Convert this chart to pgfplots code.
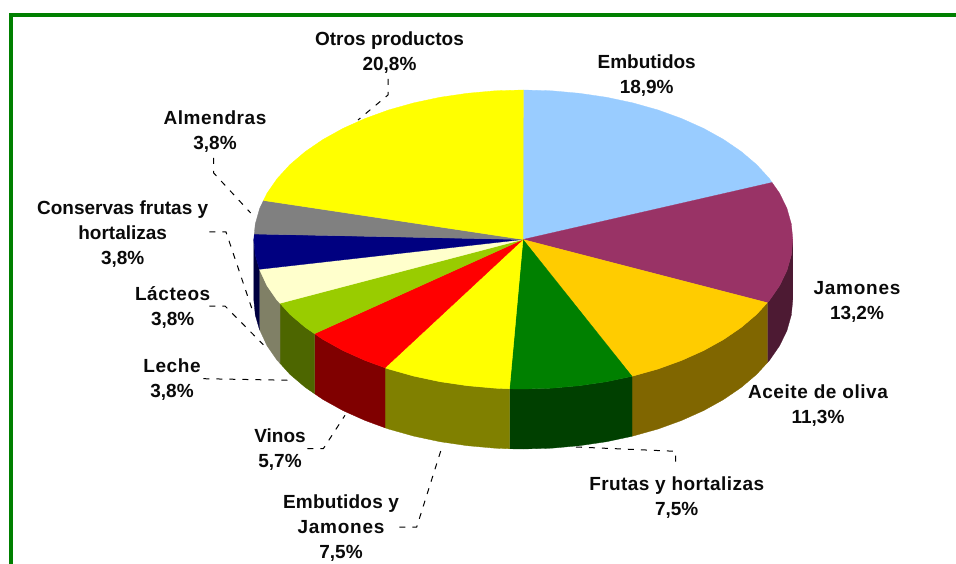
\documentclass[border=0pt]{standalone}
\usepackage{pgfplots}
\pgfplotsset{compat=1.18}
\usepackage{fontspec}
\setmainfont{Liberation Sans}
\definecolor{cEmb}{HTML}{99CCFF}
\definecolor{cJam}{HTML}{993366}
\definecolor{cAce}{HTML}{FFCC00}
\definecolor{cFru}{HTML}{008000}
\definecolor{cEyJ}{HTML}{FFFF00}
\definecolor{cVin}{HTML}{FF0000}
\definecolor{cLec}{HTML}{99CC00}
\definecolor{cLac}{HTML}{FFFFCC}
\definecolor{cCon}{HTML}{000080}
\definecolor{cAlm}{HTML}{808080}
\definecolor{cOtr}{HTML}{FFFF00}
\definecolor{sJam}{HTML}{4D1A33}
\definecolor{sAce}{HTML}{806600}
\definecolor{sFru}{HTML}{004000}
\definecolor{sEyJ}{HTML}{808000}
\definecolor{sVin}{HTML}{800000}
\definecolor{sLec}{HTML}{4D6600}
\definecolor{sLac}{HTML}{808066}
\definecolor{sCon}{HTML}{000040}
\definecolor{frameG}{HTML}{008000}
\definecolor{txt}{HTML}{0A0A0A}
\pgfplotsset{
  slice/.style={fill=#1,draw=#1,line width=0.3pt},
  leader/.style={black,line width=1pt,dash pattern=on 6pt off 7pt},
}
\tikzset{lab/.style={font=\fontsize{19}{25}\selectfont\bfseries,text=txt,align=center,inner sep=0pt}}
\newcommand{\ls}[2]{{\addfontfeatures{LetterSpace=#1}#2}}
\begin{document}
\begin{tikzpicture}
\useasboundingbox (0,0) rectangle (956pt,564pt);
\begin{axis}[
  at={(0,0)},anchor=south west,
  scale only axis,width=956pt,height=564pt,
  xmin=0,xmax=956,ymin=0,ymax=564,y dir=reverse,
  hide axis,clip=true]
% frame
\addplot[frameG,line width=4pt] coordinates {(11,564) (11,15) (956,15)};
% side walls
\addplot[slice=sJam] coordinates {(792.8,239.5)(791.3,255.1)(786.9,270.6)(779.6,285.7)(769.5,300.3)(767.3,302.7)(767.3,362.7)(769.5,360.3)(779.6,345.7)(786.9,330.6)(791.3,315.1)(792.8,299.5)} --cycle;
\addplot[slice=sAce] coordinates {(767.3,302.7)(756.7,314.3)(741.3,327.4)(723.6,339.5)(703.6,350.6)(681.7,360.4)(658.1,369.0)(632,376.3)(632,436.3)(658.1,429)(681.7,420.4)(703.6,410.6)(723.6,399.5)(741.3,387.4)(756.7,374.3)(767.3,362.7)} --cycle;
\addplot[slice=sFru] coordinates {(632,376.3)(606.6,381.7)(579.3,385.7)(551.5,388.2)(523.3,389)(509.5,388.8)(509.5,448.8)(523.3,449)(551.5,448.2)(579.3,445.7)(606.6,441.7)(632,436.3)} --cycle;
\addplot[slice=sEyJ] coordinates {(509.5,388.8)(495.1,388.2)(467.3,385.7)(440,381.7)(413.7,376.1)(388.5,369)(385,367.8)(385,427.8)(388.5,429)(413.7,436.1)(440,441.7)(467.3,445.7)(495.1,448.2)(509.5,448.8)} --cycle;
\addplot[slice=sVin] coordinates {(385,367.8)(364.9,360.4)(343,350.6)(323,339.5)(314.5,333.7)(314.5,393.7)(323,399.5)(343,410.6)(364.9,420.4)(385,427.8)} --cycle;
\addplot[slice=sLec] coordinates {(314.5,333.7)(305.3,327.4)(289.9,314.3)(280,303.3)(280,363.3)(289.9,374.3)(305.3,387.4)(314.5,393.7)} --cycle;
\addplot[slice=sLac] coordinates {(280,303.3)(277.1,300.3)(267,285.7)(259.4,269.3)(259.4,329.3)(267,345.7)(277.1,360.3)(280,363.3)} --cycle;
\addplot[slice=sCon] coordinates {(259.4,269.3)(255.3,255.1)(253.8,239.5)(253.8,299.5)(255.3,315.1)(259.4,329.3)} --cycle;
% top face
\addplot[slice=cEmb] coordinates {(523,239.5)(523.3,90)(551.5,90.8)(579.3,93.3)(606.6,97.3)(632.9,102.9)(658.1,110)(681.7,118.6)(703.6,128.4)(723.6,139.5)(741.3,151.6)(756.7,164.7)(769.5,178.7)(772,182.5)} --cycle;
\addplot[slice=cJam] coordinates {(523,239.5)(772,182.5)(779.6,193.3)(786.9,208.4)(791.3,223.9)(792.8,239.5)(791.3,255.1)(786.9,270.6)(779.6,285.7)(769.5,300.3)(767.3,302.7)} --cycle;
\addplot[slice=cAce] coordinates {(523,239.5)(767.3,302.7)(756.7,314.3)(741.3,327.4)(723.6,339.5)(703.6,350.6)(681.7,360.4)(658.1,369)(632,376.3)} --cycle;
\addplot[slice=cFru] coordinates {(523,239.5)(632,376.3)(606.6,381.7)(579.3,385.7)(551.5,388.2)(523.3,389)(509.5,388.8)} --cycle;
\addplot[slice=cEyJ] coordinates {(523,239.5)(509.5,388.8)(495.1,388.2)(467.3,385.7)(440,381.7)(413.7,376.1)(388.5,369)(385,367.8)} --cycle;
\addplot[slice=cVin] coordinates {(523,239.5)(385,367.8)(364.9,360.4)(343,350.6)(323,339.5)(314.5,333.7)} --cycle;
\addplot[slice=cLec] coordinates {(523,239.5)(314.5,333.7)(305.3,327.4)(289.9,314.3)(280,303.3)} --cycle;
\addplot[slice=cLac] coordinates {(523,239.5)(280,303.3)(277.1,300.3)(267,285.7)(259.4,269.3)} --cycle;
\addplot[slice=cCon] coordinates {(523,239.5)(259.4,269.3)(255.3,255.1)(253.8,239.5)(254.3,234)} --cycle;
\addplot[slice=cAlm] coordinates {(523,239.5)(254.3,234)(255.3,223.9)(259.7,208.4)(263.5,200.5)} --cycle;
\addplot[slice=cOtr] coordinates {(523,239.5)(263.5,200.5)(267,193.3)(277.1,178.7)(289.9,164.7)(305.3,151.6)(323,139.5)(343,128.4)(364.9,118.6)(388.5,110)(413.7,102.9)(440,97.3)(467.3,93.3)(495.1,90.8)(523.3,90)} --cycle;
% leader lines
\addplot[leader] coordinates {(388,79)(388,95)(358,120)};
\addplot[leader] coordinates {(213.7,158)(213.7,173)(250.7,213)};
\addplot[leader] coordinates {(209.3,232)(226,232)(253,312)};
\addplot[leader] coordinates {(209.3,306)(225,306)(263.3,344.7)};
\addplot[leader] coordinates {(203.3,378.7)(290,380.3)};
\addplot[leader] coordinates {(307.3,448.7)(323.3,448.7)(345,415.3)};
\addplot[leader] coordinates {(399.3,527)(416.7,527)(442.3,446)};
\addplot[leader] coordinates {(576,447)(675.7,451.3)(675.7,467)};
% labels
\node[lab] at (axis cs:389.5,52.5) {Otros productos\\20,8\%};
\node[lab] at (axis cs:646.7,76) {Embutidos\\18,9\%};
\node[lab] at (axis cs:857,302) {\ls{4}{Jamones}\\13,2\%};
\node[lab] at (axis cs:818,406) {\ls{3}{Aceite de oliva}\\11,3\%};
\node[lab] at (axis cs:676.7,497.5) {\ls{2.3}{Frutas y hortalizas}\\7,5\%};
\node[lab] at (axis cs:341,528.5) {\ls{1}{Embutidos y}\\\ls{4}{Jamones}\\7,5\%};
\node[lab] at (axis cs:280,449.5) {Vinos\\5,7\%};
\node[lab] at (axis cs:172,379.5) {\ls{3}{Leche}\\3,8\%};
\node[lab] at (axis cs:172.7,308) {\ls{3}{Lácteos}\\3,8\%};
\node[lab] at (axis cs:122.7,234) {Conservas frutas y\\hortalizas\\3,8\%};
\node[lab] at (axis cs:215,132) {\ls{3}{Almendras}\\3,8\%};
\end{axis}
\end{tikzpicture}
\end{document}
